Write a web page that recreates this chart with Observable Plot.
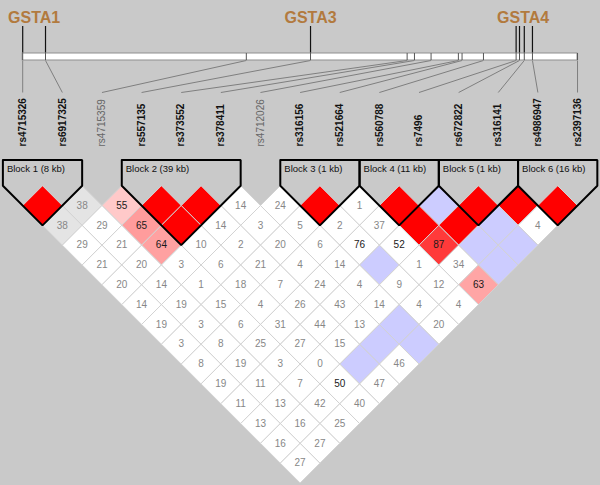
<!DOCTYPE html>
<html><head><meta charset="utf-8">
<script src="https://cdn.jsdelivr.net/npm/d3@7"></script>
<script src="https://cdn.jsdelivr.net/npm/@observablehq/plot@0.6"></script>
<style>html,body{margin:0;padding:0;background:#c9c9c9;} svg{display:block}</style>
</head><body><div id="chart"></div>
<script>
// ---------- data ----------
const snps = ["rs4715326","rs6917325","rs4715359","rs557135","rs373552","rs378411","rs4712026",
  "rs316156","rs521664","rs560788","rs7496","rs672822","rs316141","rs4986947","rs2397136"];
// estimated physical position (kb from first SNP)
const snpKb = [0, 8.1, 79.4, 102.2, 136.5, 139.1, 145.0, 154.7, 156.0, 163.6, 175.2, 176.4, 178.1, 181.0, 197.0];
const greySnps = [2, 6];               // SNPs drawn in grey (not in analysis)
const genes = ["GSTA1", "GSTA3", "GSTA4"];
const geneSnps = [[0, 1], [3], [10, 11, 12, 13]];
const blockNames = ["Block 1 (8 kb)", "Block 2 (39 kb)", "Block 3 (1 kb)", "Block 4 (11 kb)", "Block 5 (1 kb)", "Block 6 (16 kb)"];
const blockStart = [0, 3, 7, 9, 11, 13];
const blockEnd   = [1, 5, 8, 10, 12, 14];
// LD values by SNP distance (row 1 = adjacent pairs). R = D'=1 strong, B = D'=1 weak,
// suffix s = strong LD (pink shade), g = grey cell, d = dark label
const ldRows = [
  ["R","38g","55s","R","R","14","24","R","1","R","B","R","R","R"],
  ["38g","29","65s","R","14","3","5","2","37","R","R","B","4"],
  ["29","21","64s","10","2","20","6","76d","52d","87s","B","B"],
  ["21","20","3","6","21","4","14","B","1","34","B"],
  ["20","14","1","18","7","24","4","9","12","63s"],
  ["14","19","15","4","26","43","14","4","4"],
  ["19","3","6","31","44","13","B","20"],
  ["3","8","25","27","15","B","B"],
  ["8","19","3","0","B","46"],
  ["19","11","7","50d","47"],
  ["11","13","42","40"],
  ["13","16","25"],
  ["16","27"],
  ["27"]
];

// ---------- layout ----------
const W = 600, H = 485, X0 = 22.2, DX = 39.63, Y0 = 185.2, DY = 19.82;
const Y = px => (px - Y0) / DY;   // layout helper: pixel row -> y units
const kbMax = snpKb[snpKb.length - 1];
const posIdx = snpKb.map(k => k / kbMax * (snps.length - 1));

// ---------- derived tables ----------
const cells = [], verts = [];
ldRows.forEach((row, k) => {
  const d = k + 1;
  row.forEach((tok, i) => {
    const j = i + d, cx = (i + j) / 2, id = i + "-" + j;
    let fill = "#ffffff", label = null, tcol = "#878787";
    if (tok === "R") fill = "#ff0000";
    else if (tok === "B") fill = "#ccccff";
    else {
      const v = parseInt(tok), cls = tok.replace(/[0-9]/g, "");
      label = String(v);
      if (cls === "s") { const g = Math.round(Math.min(255, 446 * (1 - v / 100))); fill = `rgb(255,${g},${g})`; tcol = "#1a1a1a"; }
      else if (cls === "g") fill = "#e4e4e4";
      else if (cls === "d") tcol = "#1a1a1a";
    }
    cells.push({cx, d, label, tcol});
    [[cx, d - 1], [cx + 0.5, d], [cx, d + 1], [cx - 0.5, d], [cx, d - 1]]
      .forEach(([x, y]) => verts.push({id, x, y, fill}));
  });
});

const blockPts = [], blockLab = [];
blockNames.forEach((name, b) => {
  const a = blockStart[b], e = blockEnd[b], n = e - a;
  const top = Y(159.5);
  [[a - 0.5, top], [e + 0.5, top], [e + 0.5, 0], [(a + e) / 2, n + 1], [a - 0.5, 0], [a - 0.5, top]]
    .forEach(([x, y]) => blockPts.push({b, x, y}));
  blockLab.push({name, x: a - 0.5, y: top});
});

const geneLines = [];
geneSnps.forEach((list, g) => list.forEach(s => geneLines.push({g, x: posIdx[s]})));
const geneLab = genes.map((name, g) => ({name, x: d3.mean(geneSnps[g], s => posIdx[s])}));

const snpTab = snps.map((name, i) => ({name, i, pos: posIdx[i], grey: greySnps.includes(i)}));

const FONT = "'Liberation Sans', Arial, Helvetica, sans-serif";

const chart = Plot.plot({
  width: W, height: H,
  marginTop: 0, marginRight: 0, marginBottom: 0, marginLeft: 0,
  x: {domain: [-X0 / DX, (W - X0) / DX], range: [0, W], axis: null},
  y: {domain: [-Y0 / DY, (H - Y0) / DY], range: [0, H], axis: null},
  color: {type: "identity"},
  style: {background: "#c9c9c9", fontFamily: FONT},
  marks: [
    // gene markers
    Plot.ruleX(geneLines, {x: "x", y1: Y(26), y2: Y(53), stroke: "#111", strokeWidth: 1.2}),
    Plot.text(geneLab, {x: "x", y: Y(17), text: "name", fill: "#b27a3e", fontSize: 16, fontWeight: "bold", lineAnchor: "middle"}),
    // chromosome bar
    Plot.rect([0], {x1: 0, x2: snps.length - 1, y1: Y(53), y2: Y(60), fill: "#ffffff", stroke: "#8f8f8f"}),
    Plot.ruleX(snpTab, {x: "pos", y1: Y(53), y2: Y(60), stroke: "#555"}),
    // connectors
    Plot.link(snpTab, {x1: "pos", y1: Y(60), x2: "i", y2: Y(92), stroke: "#7f7f7f", strokeWidth: 1}),
    // SNP labels
    Plot.text(snpTab.filter(d => !d.grey), {x: "i", y: Y(146), text: "name", rotate: -90, textAnchor: "start",
      lineAnchor: "middle", fontSize: 10, fontWeight: "bold", fill: "#111"}),
    Plot.text(snpTab.filter(d => d.grey), {x: "i", y: Y(146), text: "name", rotate: -90, textAnchor: "start",
      lineAnchor: "middle", fontSize: 10, fill: "#666"}),
    // LD cells
    Plot.line(verts, {x: "x", y: "y", z: "id", fill: "fill", stroke: "#d3d3d3", strokeWidth: 1, curve: "linear"}),
    Plot.text(cells.filter(c => c.label !== null), {x: "cx", y: "d", text: "label", fill: "tcol", fontSize: 10, lineAnchor: "middle"}),
    // blocks
    Plot.line(blockPts, {x: "x", y: "y", z: "b", stroke: "#000", strokeWidth: 2, fill: "none", curve: "linear", strokeLinejoin: "miter"}),
    Plot.text(blockLab, {x: "x", y: "y", text: "name", textAnchor: "start", lineAnchor: "top", dx: 4, dy: 5, fontSize: 9.5, fill: "#111"})
  ]
});
document.getElementById("chart").appendChild(chart);
</script>
</body></html>
